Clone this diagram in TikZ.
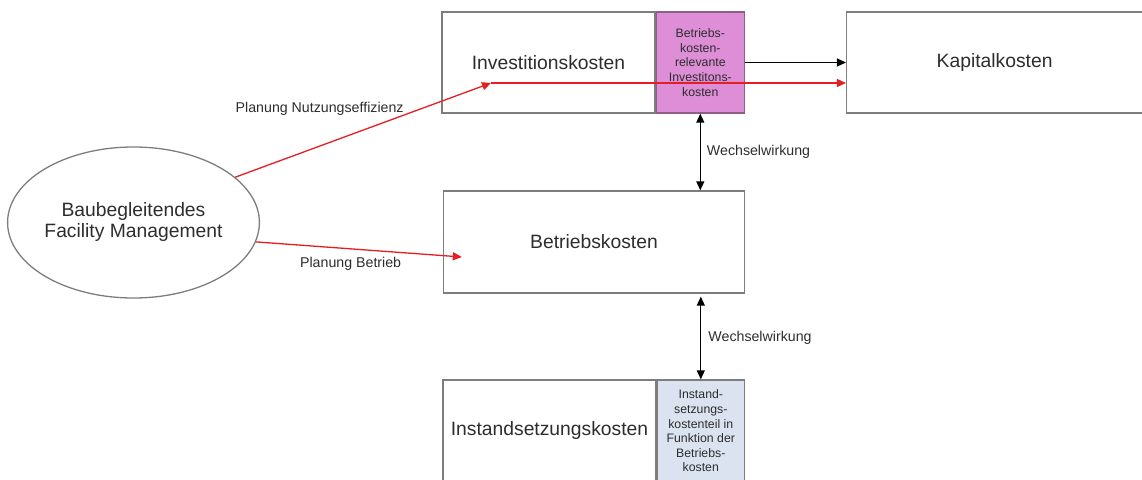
\documentclass[tikz,border=0pt]{standalone}
\usepackage{fontspec}
\setmainfont{Liberation Sans}
\usepackage{tikz}
\usetikzlibrary{arrows.meta}
\usetikzlibrary{positioning,
                shapes.geometric,
                calc}

\definecolor{boxgray}{RGB}{125,125,125}
\definecolor{txtgray}{RGB}{45,45,45}
\definecolor{fmred}{RGB}{228,30,35}
\definecolor{invpink}{RGB}{222,142,214}
\definecolor{invpinkline}{RGB}{140,95,135}
\definecolor{instblue}{RGB}{219,227,241}

\begin{document}
\begin{tikzpicture}[
        x=1pt, y=-1pt,
        every node/.style={text=txtgray, inner sep=0pt},
        kbox/.style={draw=boxgray, line width=1.3pt, fill=white, minimum height=101pt, align=center, font=\fontsize{19.3}{21}\selectfont},
        subbox/.style={draw=boxgray, line width=1.3pt, minimum height=101pt, align=center, font=\fontsize{12.3}{14.6}\selectfont},
        lbl/.style={font=\fontsize{14.2}{16}\selectfont},
        redarrow/.style={-{Triangle[length=9pt,width=8pt]}, draw=fmred, line width=1.3pt},
        blackarrow/.style={-{Triangle[length=9pt,width=8pt]}, draw=black, line width=1.3pt},
        wechsel/.style={{Triangle[length=9pt,width=8pt]}-{Triangle[length=9pt,width=8pt]}, draw=black, line width=1.3pt}
        ]
        \useasboundingbox (0,0) rectangle (1142,479);

        % Nodes
        \node[kbox, minimum width=213pt] (invest) at (548.5,62.5) {Investitionskosten};
        \node[subbox, right=0pt of invest, minimum width=88pt, fill=invpink, draw=invpinkline] (relevant) {Betriebs-\\kosten-\\relevante\\Investitons-\\kosten};
        \node[kbox, right=101pt of relevant, minimum width=296pt] (kapital) {Kapitalkosten};
        \node[kbox, minimum width=301pt, minimum height=102pt] (betrieb) at (594,242) {Betriebskosten};
        \node[kbox, minimum width=213pt, minimum height=102pt] (instand) at (549.5,431) {Instandsetzungskosten};
        \node[subbox, right=0pt of instand, minimum width=87pt, minimum height=102pt, fill=instblue] (teil) {Instand-\\setzungs-\\kostenteil in\\Funktion der\\Betriebs-\\kosten};
        \node[ellipse, draw=boxgray, line width=1.3pt, minimum width=249pt, minimum height=151pt, align=center, font=\fontsize{19.3}{21}\selectfont] (bfm) at (133.5,222.5) {Baubegleitendes\\Facility Management};
        \coordinate (nutz) at (491,83);

        % Arrows
        \draw[blackarrow] (relevant.east) -- (kapital.west |- relevant.east);
        \draw[redarrow] (bfm.24) -- node[lbl, pos=0.33, above=30pt] {Planung Nutzungseffizienz} (nutz);
        \draw[redarrow] (nutz) -- (kapital.west |- nutz);
        \draw[redarrow] (bfm.-9) -- node[lbl, pos=0.46, below=8pt] {Planung Betrieb} ($(betrieb.west)+(19,15)$);
        \draw[wechsel] (relevant.south) -- node[lbl, right=6pt] {Wechselwirkung} (relevant.south |- betrieb.north);
        \draw[wechsel] ($(teil.north |- betrieb.south)+(0,3)$) -- node[lbl, right=7pt] {Wechselwirkung} (teil.north);

\end{tikzpicture}
\end{document}
